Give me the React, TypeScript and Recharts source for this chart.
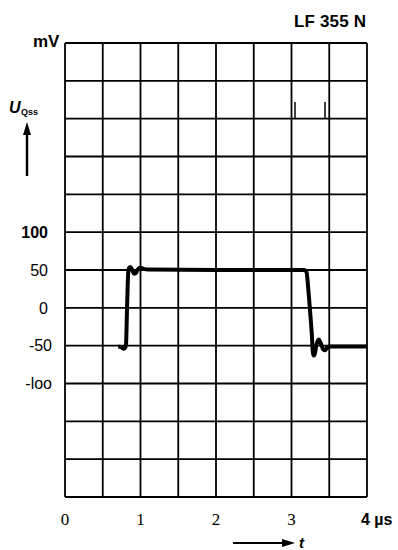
import React from "react";
import {
  LineChart,
  Line,
  XAxis,
  YAxis,
  CartesianGrid,
} from "recharts";

// oscilloscope trace, time in µs, output voltage in mV
const TIME_US = [
  0.706, 0.745, 0.772, 0.795, 0.808, 0.825, 0.838, 0.85, 0.865, 0.89, 0.915,
  0.94, 0.965, 1.0, 1.04, 1.1, 2.0, 3.17, 3.2, 3.222, 3.267, 3.289, 3.305,
  3.33, 3.36, 3.385, 3.42, 3.444, 3.475, 3.51, 4.0,
];
const U_MV = [
  -51, -52, -54, -53, -48, 12, 47, 53, 54, 50, 45, 46, 51, 53, 51.5, 50.5, 50,
  50, 47, 25, -32, -63, -62, -49, -42, -46, -55, -56, -52, -51, -51,
];

const X_GRID = [0, 0.5, 1, 1.5, 2, 2.5, 3, 3.5, 4];
const Y_GRID = [-250, -200, -150, -100, -50, 0, 50, 100, 150, 200, 250, 300, 350];
const Y_LABELS: Record<number, string> = {
  100: "100",
  50: "50",
  0: "0",
  [-50]: "-50",
  [-100]: "-loo",
};
const X_LABELS: Record<number, string> = { 0: "0", 1: "1", 2: "2", 3: "3" };

const data = TIME_US.map((t, i) => ({ t, u: U_MV[i] }));

const SANS = "'Liberation Sans', Arial, sans-serif";
const SERIF = "'Liberation Serif', 'Times New Roman', serif";

function YTick(props: any) {
  const { y, payload } = props;
  const label = Y_LABELS[payload.value];
  if (label === undefined) return null;
  const neg = payload.value < 0;
  return (
    <text
      x={neg ? 52 : 48}
      y={y}
      dy="0.36em"
      textAnchor="end"
      fontFamily={SANS}
      fontSize={16}
      fontWeight={payload.value === 100 ? 700 : 400}
      fill="#000"
    >
      {label}
    </text>
  );
}

function XTick(props: any) {
  const { x, payload } = props;
  if (payload.value === 4) {
    return (
      <text x={x - 6} y={525} fontFamily={SANS} fontSize={16} fontWeight={700} fill="#000">
        4 µs
      </text>
    );
  }
  const label = X_LABELS[payload.value];
  if (label === undefined) return null;
  return (
    <text x={x} y={525} textAnchor="middle" fontFamily={SERIF} fontSize={17} fill="#000">
      {label}
    </text>
  );
}

export default function App() {
  return (
    <div style={{ position: "absolute", left: 0, top: 0, width: 398, height: 550, background: "#fff" }}>
      <LineChart
        width={398}
        height={550}
        data={data}
        margin={{ top: 43, right: 31, bottom: 23, left: 0 }}
      >
        <CartesianGrid stroke="#000" strokeWidth={1.8} strokeOpacity={1} />
        <XAxis
          dataKey="t"
          type="number"
          domain={[0, 4]}
          ticks={X_GRID}
          interval={0}
          axisLine={false}
          tickLine={false}
          height={30}
          tick={<XTick />}
        />
        <YAxis
          type="number"
          domain={[-250, 350]}
          ticks={Y_GRID}
          interval={0}
          axisLine={false}
          tickLine={false}
          width={65}
          tick={<YTick />}
        />
        <Line
          type="monotone"
          dataKey="u"
          stroke="#000"
          strokeWidth={4}
          dot={false}
          isAnimationActive={false}
        />
      </LineChart>
      <svg
        width={398}
        height={550}
        style={{ position: "absolute", left: 0, top: 0, pointerEvents: "none" }}
      >
        <text x={294} y={27} fontFamily={SANS} fontSize={17} fontWeight={700} textLength={72} fill="#000">
          LF 355 N
        </text>
        <text x={33} y={47} fontFamily={SANS} fontSize={17} fontWeight={700} fill="#000">
          mV
        </text>
        <text x={9} y={113} fontFamily={SANS} fontSize={16} fontWeight={700} fontStyle="italic" fill="#000">
          U
        </text>
        <text x={21} y={115} fontFamily={SANS} fontSize={9} fontWeight={700} fill="#000">
          Qss
        </text>
        <line x1={27} y1={132} x2={27} y2={176} stroke="#000" strokeWidth={2.5} />
        <polygon points="27,122 23,135 31,135" fill="#000" />
        <line x1={295} y1={102} x2={295} y2={119} stroke="#000" strokeWidth={1.5} />
        <line x1={325} y1={102} x2={325} y2={119} stroke="#000" strokeWidth={1.5} />
        <line x1={233} y1={543} x2={283} y2={543} stroke="#000" strokeWidth={2} />
        <polygon points="295,543 282,539 282,547" fill="#000" />
        <text x={299} y={548} fontFamily={SANS} fontSize={15} fontWeight={700} fontStyle="italic" fill="#000">
          t
        </text>
      </svg>
    </div>
  );
}
